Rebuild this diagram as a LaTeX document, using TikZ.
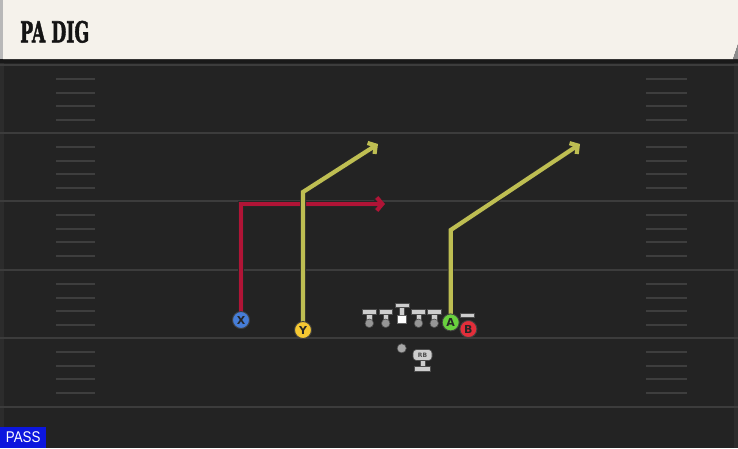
\documentclass[tikz,border=0pt]{standalone}
\usepackage{fontspec}
\setmainfont{DejaVu Sans}
\newfontfamily\titlefont{DejaVu Serif}[BoldFeatures={FakeBold=2}]
\newfontfamily\passfont{Liberation Sans}
\usetikzlibrary{arrows.meta}
\pgfdeclarelayer{field}
\pgfdeclarelayer{routes}
\pgfsetlayers{field,routes,main}
\definecolor{fieldc}{RGB}{35,35,35}
\definecolor{edgec}{RGB}{44,44,44}
\definecolor{yardc}{RGB}{60,60,60}
\definecolor{hashc}{RGB}{62,62,62}
\definecolor{creamc}{RGB}{245,242,235}
\definecolor{yroute}{RGB}{190,190,82}
\definecolor{rroute}{RGB}{176,20,54}
\definecolor{xblue}{RGB}{70,125,215}
\definecolor{yyellow}{RGB}{245,200,50}
\definecolor{agreen}{RGB}{105,208,62}
\definecolor{bred}{RGB}{226,46,58}
\definecolor{passblue}{RGB}{12,22,222}
\definecolor{tcol}{RGB}{205,205,205}
\definecolor{dotc}{RGB}{150,150,150}
\tikzset{
  yardline/.style={yardc, line width=2pt},
  hashline/.style={hashc, line width=2pt},
  routeout/.style={black!85, line width=6pt, line join=miter, -{Straight Barb[length=5.5pt,width=13pt]}},
  routein/.style={line width=4.2pt, line join=miter, -{Straight Barb[length=5.5pt,width=13pt]}},
  player/.style={circle, minimum size=17pt, inner sep=0pt, draw=black!75, line width=0.9pt,
    font=\bfseries\fontsize{11}{11}\selectfont, text=black!85},
  tpart/.style={fill=tcol, draw=black!70, line width=0.6pt},
  pics/lineman/.style={code={
    \filldraw[tpart] (-6.8,-14.5) rectangle (6.8,-9.5);
    \filldraw[tpart] (-2.6,-9.5) rectangle (2.6,-2);
    \filldraw[fill=dotc, draw=black!70, line width=0.6pt] (0,0) circle (4.3);
  }}
}
\begin{document}
\begin{tikzpicture}[x=1pt,y=-1pt]
\useasboundingbox (0,0) rectangle (738,448);
\begin{pgfonlayer}{field}
  \fill[fieldc] (0,0) rectangle (738,448);
  \fill[edgec] (0,60) rectangle (4,448);
  \fill[edgec] (734,60) rectangle (738,448);
  \foreach \yy in {65,133,201,270,338,407} \draw[yardline] (0,\yy) -- (738,\yy);
  \foreach \yy in {65,133,201,270,338} \foreach \dd in {14,27.5,41,55} {
    \draw[hashline] (56,\yy+\dd) -- (95,\yy+\dd);
    \draw[hashline] (646,\yy+\dd) -- (687,\yy+\dd);
  }
  % header
  \fill[black!90] (0,59) rectangle (738,63);
  \fill[black!28] (0,0) rectangle (3,59);
  \fill[creamc] (3,0) -- (738,0) -- (738,44) -- (733,59) -- (3,59) -- cycle;
  \fill[black!45] (738,44) -- (733,59) -- (738,59) -- cycle;
\end{pgfonlayer}

\node[anchor=south west, inner sep=0pt, text=black!92] (title) at (20,43)
  {\resizebox{69pt}{21.5pt}{\titlefont\bfseries PA DIG}};

% offensive line
\foreach \xx in {369.3,385.7,418.5,434.2} \pic at (\xx,323.3) {lineman};
\filldraw[tpart] (395,302.8) rectangle (409,307.2);
\filldraw[tpart] (399,307.2) rectangle (404.4,315);
\filldraw[fill=white, draw=black!60, line width=0.5pt] (397.5,315) rectangle (405.9,323);
\filldraw[tpart] (460,313) rectangle (474.5,317.5);

% QB dot and RB
\filldraw[fill=dotc!85, draw=black!70, line width=0.6pt] (401.7,348.3) circle (4.6);
\filldraw[tpart] (414,366.5) rectangle (430.5,371);
\filldraw[tpart] (419.8,360) rectangle (425.2,366.5);
\node[fill=tcol, draw=black!70, line width=0.6pt, rounded corners=3.5pt, minimum width=19pt,
  minimum height=11pt, inner sep=0pt, font=\bfseries\fontsize{6}{6}\selectfont, text=black!70]
  (RB) at (422.5,355) {RB};

% players
\node[player, fill=xblue] (X) at (241,320) {X};
\node[player, fill=yyellow] (Y) at (303,330) {Y};
\node[player, fill=agreen] (A) at (450.7,322.4) {A};
\node[player, fill=bred] (B) at (468.4,329) {B};

% routes
\coordinate (xend) at (385,204);
\coordinate (ycorner) at (303,192);
\coordinate (yend) at (378,144);
\coordinate (acorner) at (450.7,230);
\coordinate (aend) at (580,144);
\begin{pgfonlayer}{routes}
  \draw[routeout] (X.center) |- (xend);
  \draw[routein, rroute] (X.center) |- (xend);
  \draw[routeout] (Y.center) -- (ycorner) -- (yend);
  \draw[routein, yroute] (Y.center) -- (ycorner) -- (yend);
  \draw[routeout] (A.center) -- (acorner) -- (aend);
  \draw[routein, yroute] (A.center) -- (acorner) -- (aend);
\end{pgfonlayer}

% PASS label
\node[fill=passblue, text=white, anchor=south west, inner sep=0pt, minimum width=46pt,
  minimum height=20.5pt, font=\passfont\fontsize{15.5}{15.5}\selectfont] (pass) at (0,448)
  {\scalebox{0.86}[1]{PASS}};
\end{tikzpicture}
\end{document}
